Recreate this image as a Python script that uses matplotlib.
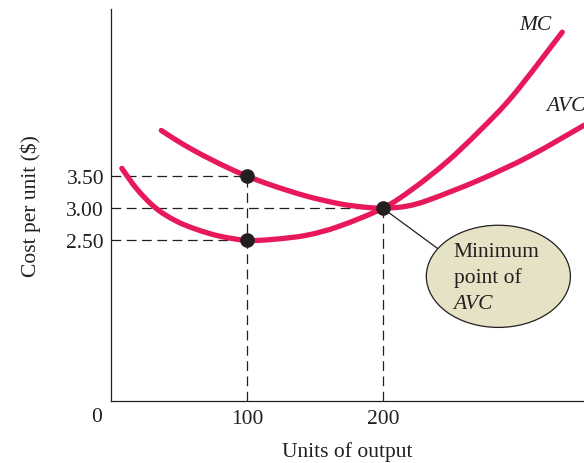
import numpy as np
import matplotlib
matplotlib.use("Agg")
import matplotlib.pyplot as plt
from matplotlib.path import Path
from matplotlib.patches import PathPatch, Ellipse

plt.rcParams["font.family"] = ["Liberation Serif", "DejaVu Serif"]
plt.rcParams["lines.scale_dashes"] = False

# Marginal cost curve (units of output, $ per unit)
mc_x = [8, 19, 33, 48, 63, 80, 100, 119, 144, 168, 200, 222, 247, 271, 296, 332]
mc_y = [3.62, 3.30, 3.00, 2.80, 2.67, 2.565, 2.50, 2.515, 2.58, 2.72, 3.00,
        3.30, 3.72, 4.20, 4.76, 5.74]

# Average variable cost curve
avc_x = [37, 48, 60, 73, 85, 100, 119, 144, 168, 185, 200, 217, 234, 271, 308, 348]
avc_y = [4.21, 4.06, 3.91, 3.765, 3.64, 3.50, 3.352, 3.187, 3.07, 3.02, 3.00,
         3.03, 3.13, 3.44, 3.81, 4.29]

# Highlighted points: (output, cost)
pt_avc100 = (100, 3.50)
pt_mc100 = (100, 2.50)
pt_min = (200, 3.00)

y_ticks = [2.50, 3.00, 3.50]
y_tick_labels = ["2.50", "3.00", "3.50"]
x_ticks = [100, 200]
x_tick_labels = ["100", "200"]

RED = "#E8195A"
INK = "#231F20"
FS = 15.5


def smooth_path(xs, ys):
    pts = np.column_stack([xs, ys]).astype(float)
    verts = [pts[0]]
    codes = [Path.MOVETO]
    n = len(pts)
    for i in range(n - 1):
        p0 = pts[i - 1] if i > 0 else pts[i]
        p1 = pts[i]
        p2 = pts[i + 1]
        p3 = pts[i + 2] if i + 2 < n else pts[i + 1]
        c1 = p1 + (p2 - p0) / 6.0
        c2 = p2 - (p3 - p1) / 6.0
        verts += [c1, c2, p2]
        codes += [Path.CURVE4] * 3
    return Path(verts, codes)


fig = plt.figure(figsize=(5.84, 4.64), dpi=100)
ax = fig.add_axes([111 / 584, 62 / 464, 473 / 584, 392 / 464])
ax.set_xlim(0, 348)
ax.set_ylim(0, 6.1)

for s in ("top", "right"):
    ax.spines[s].set_visible(False)
for s in ("left", "bottom"):
    ax.spines[s].set_linewidth(0.9)
    ax.spines[s].set_color(INK)

# dashed guide lines
dash = dict(color=INK, lw=0.9, linestyle=(0, (7, 4)), zorder=1)
ax.plot([0, pt_avc100[0]], [pt_avc100[1]] * 2, **dash)
ax.plot([0, pt_min[0]], [pt_min[1]] * 2, **dash)
ax.plot([0, pt_mc100[0]], [pt_mc100[1]] * 2, **dash)
ax.plot([pt_avc100[0]] * 2, [0, pt_avc100[1]], **dash)
ax.plot([pt_min[0]] * 2, [0, pt_min[1]], **dash)

# cost curves
for xs, ys in ((mc_x, mc_y), (avc_x, avc_y)):
    patch = PathPatch(smooth_path(xs, ys), fill=False, edgecolor=RED,
                      lw=3.8, zorder=3, clip_on=False)
    patch.set_capstyle("round")
    patch.set_joinstyle("round")
    ax.add_patch(patch)

# highlighted points
px, py = zip(pt_avc100, pt_mc100, pt_min)
ax.plot(px, py, "o", color=INK, ms=9.5, zorder=5)

# callout bubble for the minimum of AVC
bubble = Ellipse((285, 1.94), 106, 1.59, facecolor="#E6E2C6",
                 edgecolor=INK, lw=0.9, zorder=4)
ax.add_patch(bubble)
ax.annotate("", xy=pt_min, xytext=(240.5, 2.37),
            arrowprops=dict(arrowstyle="-", color=INK, lw=0.9,
                            shrinkA=0, shrinkB=0),
            zorder=3)
ax.text(252, 2.33, "Minimum", fontsize=FS, color=INK, va="center", zorder=6)
ax.text(252, 1.93, "point of", fontsize=FS, color=INK, va="center", zorder=6)
ax.text(252, 1.52, "AVC", fontsize=FS, color=INK, va="center",
        style="italic", zorder=6)

# curve labels
ax.text(300, 5.86, "MC", fontsize=FS, style="italic", color=INK,
        va="center", ha="left")
ax.text(320, 4.6, "AVC", fontsize=FS, style="italic", color=INK,
        va="center", ha="left", clip_on=False)

# ticks
ax.set_yticks(y_ticks)
ax.set_yticklabels(y_tick_labels)
ax.set_xticks(x_ticks)
ax.set_xticklabels(x_tick_labels)
ax.tick_params(length=0, labelsize=FS, colors=INK)
ax.tick_params(axis="y", pad=5)
ax.tick_params(axis="x", pad=6)
ax.text(-10.5, -0.235, "0", fontsize=FS, color=INK, ha="center", va="center")

ax.set_ylabel("Cost per unit ($)", fontsize=FS, color=INK, labelpad=18)
ax.set_xlabel("Units of output", fontsize=FS, color=INK, labelpad=9)

fig.savefig("out.png", dpi=100)
